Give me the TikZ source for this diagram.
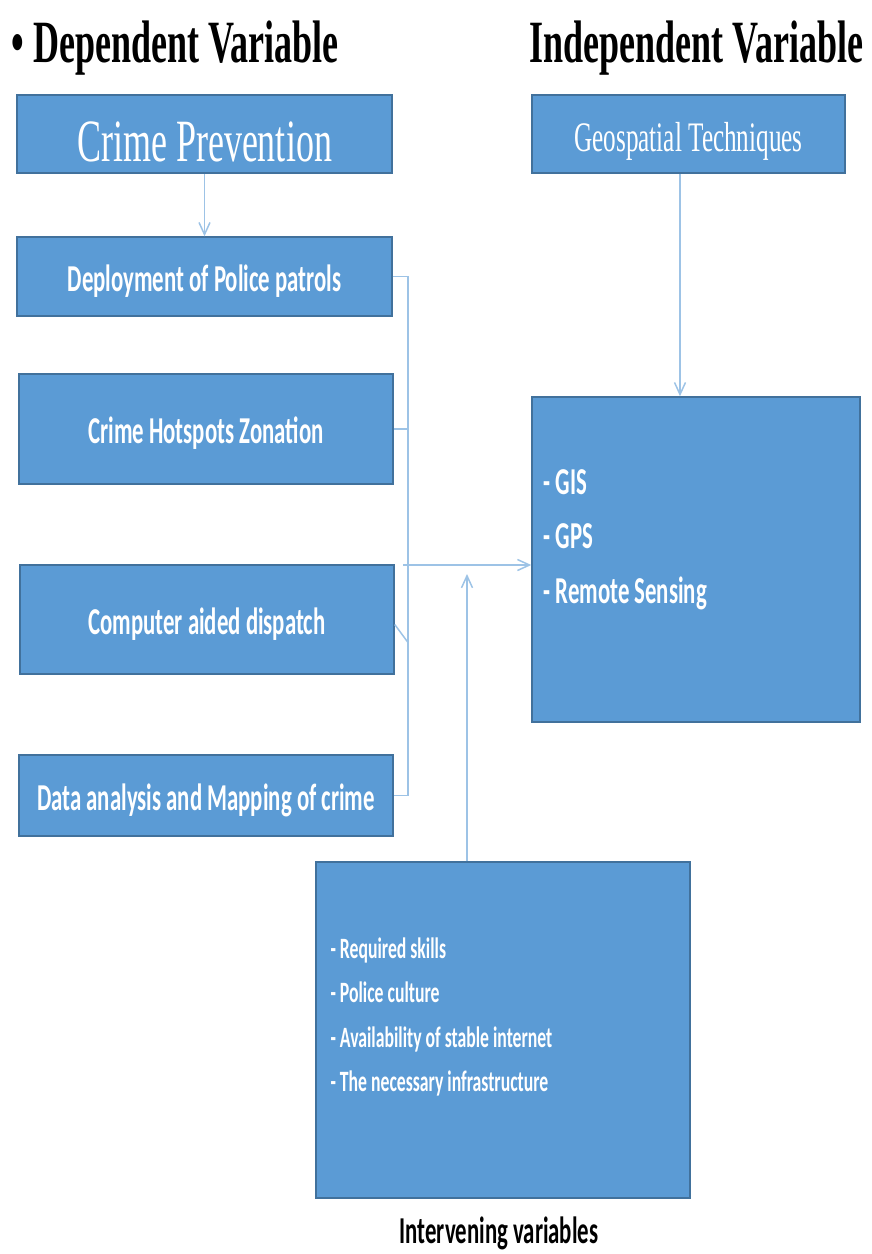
\documentclass[tikz,border=0pt]{standalone}
\usepackage{graphicx}
\usepackage{fontspec}
\setmainfont{Liberation Serif}
\newfontfamily\calibri{Carlito}
\usetikzlibrary{arrows.meta}
\definecolor{boxblue}{RGB}{91,155,213}
\definecolor{boxedge}{RGB}{65,113,156}
\definecolor{linkblue}{RGB}{157,195,230}
\newcommand{\narrow}[1]{\scalebox{0.6}[1]{#1}}

\begin{document}
\begin{tikzpicture}[x=1pt,y=-1pt,
    varbox/.style={draw=boxedge,line width=1.5pt,fill=boxblue,text=white,inner sep=0pt},
    boxlabel/.style={font=\calibri\bfseries\fontsize{38}{46}\selectfont},
    sidebox/.style={varbox,boxlabel,text height=32pt,text depth=3pt},
    heading/.style={anchor=base west,font=\bfseries\fontsize{60}{60}\selectfont},
    link/.style={draw=linkblue,line width=1.5pt},
    tip/.style={-{Straight Barb[length=12pt,width=11pt]}}]
  \useasboundingbox (0,0) rectangle (872,1254);
  % Headings
  \node[heading] (dephead) at (8,62) {\narrow{• Dependent Variable}};
  \node[heading] (indhead) at (526,62) {\narrow{Independent Variable}};
  % Dependent variable boxes
  \node[varbox,minimum width=375pt,minimum height=78pt,text height=54pt,text depth=0pt,
    font=\fontsize{60}{60}\selectfont] (prevent) at (204.5,134) {\narrow{Crime Prevention}};
  \node[sidebox,minimum width=375pt,minimum height=79pt] (patrols) at (204.5,276.5) {\narrow{Deployment of Police patrols}};
  \node[sidebox,minimum width=374pt,minimum height=110pt] (hotspots) at (206,429) {\narrow{Crime Hotspots Zonation}};
  \node[sidebox,minimum width=374pt,minimum height=109pt] (dispatch) at (207,619.5) {\narrow{Computer aided dispatch}};
  \node[sidebox,minimum width=374pt,minimum height=81pt] (mapping) at (206,795.5) {\narrow{Data analysis and Mapping of crime}};
  % Independent variable boxes
  \node[varbox,minimum width=313pt,minimum height=78pt,text height=34pt,text depth=0pt,
    font=\fontsize{42}{42}\selectfont] (geotech) at (688.5,134) {\narrow{Geospatial Techniques}};
  \node[varbox,minimum width=328pt,minimum height=325pt] (tools) at (696,559.5) {};
  \node[boxlabel,text=white,anchor=base west] (toollist) at (540,494)
    {\narrow{\fontsize{38}{54.5}\selectfont\begin{tabular}[t]{@{}l@{}}- GIS\\- GPS\\- Remote Sensing\end{tabular}}};
  % Intervening variables
  \node[varbox,minimum width=374pt,minimum height=336pt] (context) at (503,1030) {};
  \node[text=white,anchor=base west,font=\calibri\bfseries\fontsize{29.5}{44.5}\selectfont] (contextlist) at (327,958)
    {\narrow{\begin{tabular}[t]{@{}l@{}}- Required skills\\- Police culture\\- Availability of stable internet\\- The necessary infrastructure\end{tabular}}};
  \node[boxlabel,anchor=base] (contextcap) at (499,1243) {\narrow{Intervening variables}};
  % Connectors
  \coordinate (trunk) at (408,0);
  \coordinate (join) at (403,565);
  \coordinate (meet) at (467,574);
  \draw[link,tip] (prevent.south) -- (patrols.north);
  \draw[link,tip] ([xshift=-8.5pt]geotech.south) -- ([xshift=-8.5pt]geotech.south |- tools.north);
  \draw[link] (patrols.east) -| (trunk |- mapping.east) -- (mapping.east);
  \draw[link] (hotspots.east) -- (hotspots.east -| trunk);
  \draw[link] ([yshift=-5pt]dispatch.east) -- ([yshift=-23pt]dispatch.east -| trunk);
  \draw[link,tip] (join) -- (join -| tools.west);
  \draw[link,tip] (meet |- context.north) -- (meet);
\end{tikzpicture}
\end{document}
